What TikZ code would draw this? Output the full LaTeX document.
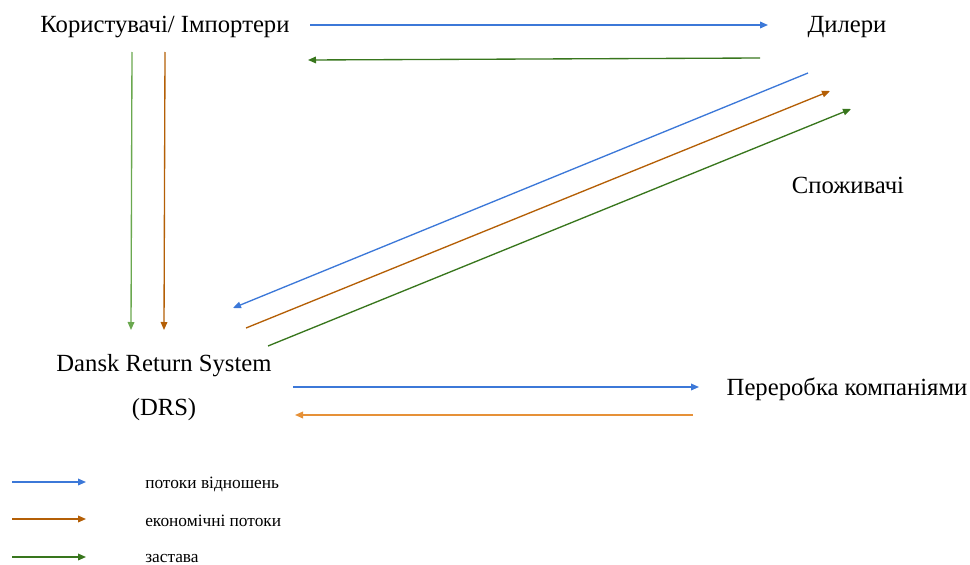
\documentclass[tikz,border=0pt]{standalone}
\usepackage{fontspec}
\setmainfont{Liberation Serif}
\usetikzlibrary{arrows.meta}
\definecolor{cblue}{HTML}{3C78D8}
\definecolor{corange}{HTML}{B45F06}
\definecolor{clorange}{HTML}{E69138}
\definecolor{cgreen}{HTML}{38761D}
\definecolor{clgreen}{HTML}{6AA84F}
\tikzset{
  lbl/.style={inner sep=0pt, font=\fontsize{18.5}{22}\selectfont},
  leg/.style={inner sep=0pt, anchor=west, font=\fontsize{13}{15}\selectfont},
  flow/.style={line width=1pt, -{Triangle[length=6pt,width=5pt]}},
}
\begin{document}
\begin{tikzpicture}[x=0.75pt,y=-0.75pt]
\useasboundingbox (0,0) rectangle (970,564);
% labels
\node[lbl] (users) at (165,27) {Користувачі/ Імпортери};
\node[lbl] (dealers) at (847,27) {Дилери};
\node[lbl] (cons) at (848,185) {Споживачі};
\node[lbl] (drs) at (164,366) {Dansk Return System};
\node[lbl] (drs2) at (164,410) {(DRS)};
\node[lbl] (recyc) at (847,389) {Переробка компаніями};
% endpoints
\coordinate (a1) at (310,25); \coordinate (a2) at (768,25);
\coordinate (b1) at (760,58); \coordinate (b2) at (308,60);
\coordinate (c1) at (808,73); \coordinate (c2) at (233,308);
\coordinate (d1) at (246,328); \coordinate (d2) at (830,91);
\coordinate (e1) at (268,346); \coordinate (e2) at (851,109);
\coordinate (f1) at (132,52); \coordinate (f2) at (131,330);
\coordinate (g1) at (165,52); \coordinate (g2) at (164,330);
\coordinate (h1) at (293,387); \coordinate (h2) at (699,387);
\coordinate (i1) at (693,415); \coordinate (i2) at (295,415);
\draw[flow, cblue] (a1) -- (a2);
\draw[flow, cgreen] (b1) -- (b2);
\draw[flow, cblue] (c1) -- (c2);
\draw[flow, corange] (d1) -- (d2);
\draw[flow, cgreen] (e1) -- (e2);
\draw[flow, clgreen] (f1) -- (f2);
\draw[flow, corange] (g1) -- (g2);
\draw[flow, cblue] (h1) -- (h2);
\draw[flow, clorange] (i1) -- (i2);
% legend
\coordinate (l1a) at (12,482); \coordinate (l1b) at (86,482);
\coordinate (l2a) at (12,519); \coordinate (l2b) at (86,519);
\coordinate (l3a) at (12,557); \coordinate (l3b) at (86,557);
\draw[flow, cblue] (l1a) -- (l1b);
\draw[flow, corange] (l2a) -- (l2b);
\draw[flow, cgreen] (l3a) -- (l3b);
\node[leg] (t1) at (145,484) {потоки відношень};
\node[leg] (t2) at (145,521) {економічні потоки};
\node[leg] (t3) at (145,558) {застава};
\end{tikzpicture}
\end{document}
